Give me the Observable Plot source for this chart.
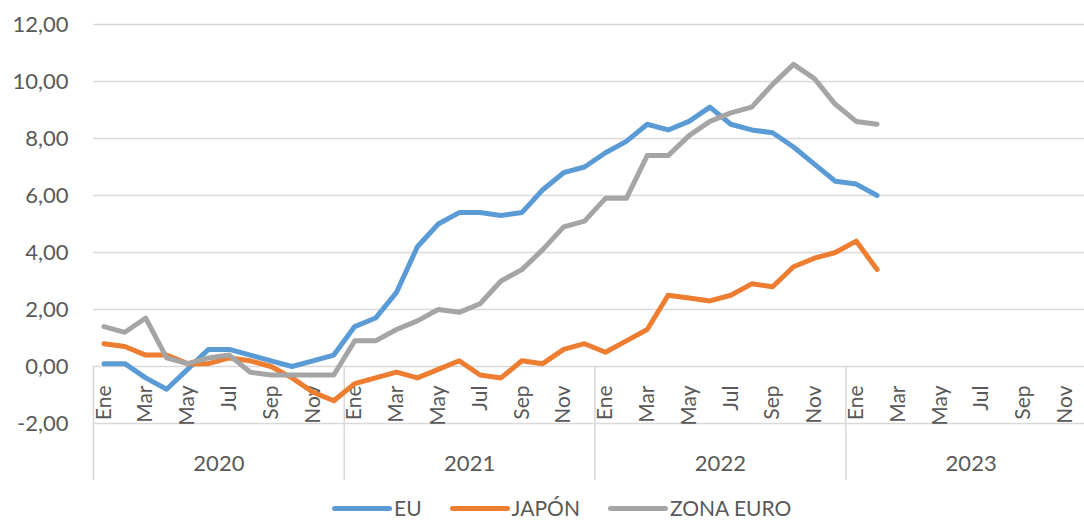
<!DOCTYPE html>
<html>
<head>
<meta charset="utf-8">
<script src="https://cdn.jsdelivr.net/npm/d3@7"></script>
<script src="https://cdn.jsdelivr.net/npm/@observablehq/plot@0.6"></script>
<style>
  html, body { margin: 0; padding: 0; background: #fff; overflow: hidden; }
  #chart svg { display: block; }
  .legend { display: flex; align-items: center; margin-top: 5px; height: 26px; padding-left: 332px;
            font-family: Lato, sans-serif; font-size: 21px; line-height: 24px; color: #595959; white-space: nowrap; }
  .legend .item { display: flex; align-items: center; margin-right: 28px; }
  .legend .sw { display: inline-block; width: 60px; height: 5px; border-radius: 3px; margin-right: 2px; }
</style>
</head>
<body>
<div id="chart"></div>
<div class="legend" id="legend"></div>
<script>
// ---- data ----
const years = [2020, 2021, 2022, 2023];
const monthNames = ["Ene", "Feb", "Mar", "Abr", "May", "Jun", "Jul", "Ago", "Sep", "Oct", "Nov", "Dic"];
const yTicks = [-2, 0, 2, 4, 6, 8, 10, 12];
const seriesNames = ["EU", "JAPÓN", "ZONA EURO"];
const seriesColors = ["#5B9BD5", "#ED7D31", "#A5A5A5"];

// monthly values from Ene 2020 to Feb 2023
const eu = [
  0.1, 0.1, -0.4, -0.8, -0.1, 0.6, 0.6, 0.4, 0.2, 0.0, 0.2, 0.4,
  1.4, 1.7, 2.6, 4.2, 5.0, 5.4, 5.4, 5.3, 5.4, 6.2, 6.8, 7.0,
  7.5, 7.9, 8.5, 8.3, 8.6, 9.1, 8.5, 8.3, 8.2, 7.7, 7.1, 6.5,
  6.4, 6.0
];
const japon = [
  0.8, 0.7, 0.4, 0.4, 0.1, 0.1, 0.3, 0.2, 0.0, -0.4, -0.9, -1.2,
  -0.6, -0.4, -0.2, -0.4, -0.1, 0.2, -0.3, -0.4, 0.2, 0.1, 0.6, 0.8,
  0.5, 0.9, 1.3, 2.5, 2.4, 2.3, 2.5, 2.9, 2.8, 3.5, 3.8, 4.0,
  4.4, 3.4
];
const zonaEuro = [
  1.4, 1.2, 1.7, 0.3, 0.1, 0.3, 0.4, -0.2, -0.3, -0.3, -0.3, -0.3,
  0.9, 0.9, 1.3, 1.6, 2.0, 1.9, 2.2, 3.0, 3.4, 4.1, 4.9, 5.1,
  5.9, 5.9, 7.4, 7.4, 8.1, 8.6, 8.9, 9.1, 9.9, 10.6, 10.1, 9.2,
  8.6, 8.5
];

// ---- derived tables ----
const months = years.flatMap((yr, yi) => monthNames.map((m, mi) => ({year: yr, name: m, idx: yi * 12 + mi})));
const rows = [eu, japon, zonaEuro].flatMap((vals, s) =>
  vals.map((v, i) => ({serie: seriesNames[s], idx: i, value: v})));
const yearStarts = years.map((y, i) => ({year: y, start: i * 12}));
const fmt = d => d.toFixed(2).replace(".", ",");
const yMin = yTicks[0];

const plot = Plot.plot({
  width: 1084,
  height: 490,
  marginLeft: 93,
  marginRight: 0,
  marginTop: 24,
  marginBottom: 67,
  style: {fontFamily: "Lato, sans-serif", fontSize: "22px", color: "#595959", background: "white"},
  x: {type: "linear", domain: [0, months.length], range: [93, 1096], axis: null},
  y: {domain: [yTicks[0], yTicks[yTicks.length - 1]], ticks: yTicks, tickFormat: fmt,
      tickSize: 0, tickPadding: 25, label: null},
  color: {domain: seriesNames, range: seriesColors},
  marks: [
    Plot.ruleY(yTicks, {stroke: "#D9D9D9", strokeWidth: 1.6}),
    Plot.ruleX(yearStarts, {x: "start", y1: 0, y2: yMin - 2, stroke: "#D9D9D9", strokeWidth: 1.6}),
    Plot.text(months.filter(d => d.idx % 2 === 0), {
      x: d => d.idx + 0.5, y: 0, text: "name", rotate: -90, textAnchor: "end",
      dy: 19, fontSize: 21, fill: "#595959"
    }),
    Plot.text(yearStarts, {x: d => d.start + 6, y: yMin, dy: 40, text: d => String(d.year),
      fontSize: 22, fill: "#595959"}),
    Plot.line(rows, {x: d => d.idx + 0.5, y: "value", z: "serie", stroke: "serie",
      strokeWidth: 5, strokeLinejoin: "round", strokeLinecap: "round"})
  ]
});
document.getElementById("chart").appendChild(plot);

const legend = document.getElementById("legend");
seriesNames.forEach((name, i) => {
  const item = document.createElement("div");
  item.className = "item";
  const sw = document.createElement("span");
  sw.className = "sw";
  sw.style.background = seriesColors[i];
  const label = document.createElement("span");
  label.textContent = name;
  item.appendChild(sw);
  item.appendChild(label);
  legend.appendChild(item);
});
</script>
</body>
</html>
